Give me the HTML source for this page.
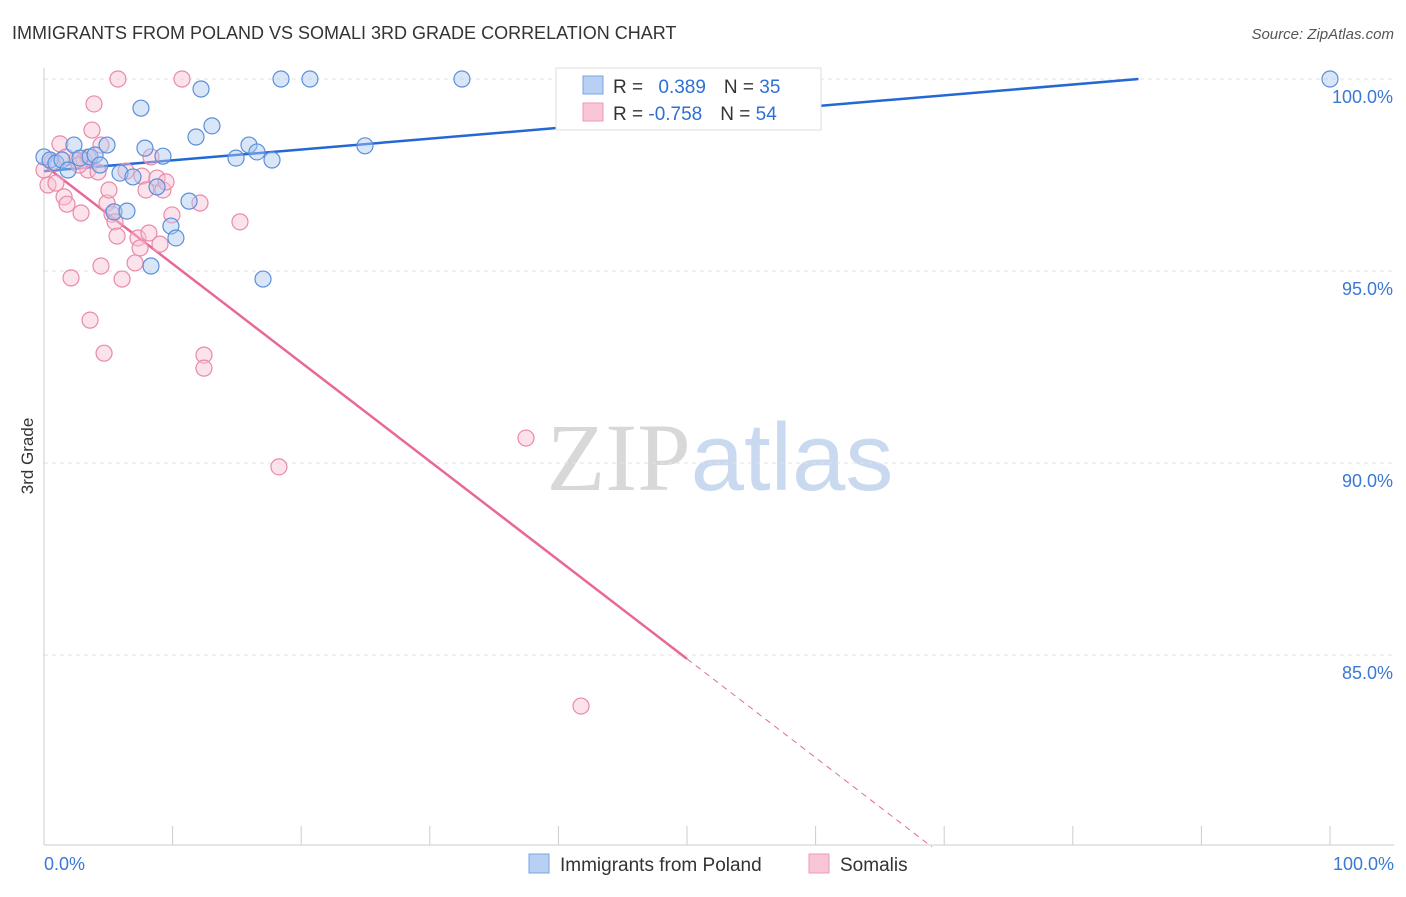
<!DOCTYPE html>
<html><head><meta charset="utf-8"><style>
body{margin:0;background:#fff;font-family:"Liberation Sans",sans-serif;}
svg text{font-family:"Liberation Sans",sans-serif;}
</style></head><body>
<svg id="chart" width="1406" height="892" xmlns="http://www.w3.org/2000/svg">
<text x="12" y="39" font-size="18" fill="#333">IMMIGRANTS FROM POLAND VS SOMALI 3RD GRADE CORRELATION CHART</text>
<text x="1394" y="39" font-size="15" fill="#555" text-anchor="end" font-style="italic">Source: ZipAtlas.com</text>
<text transform="translate(33,456) rotate(-90)" font-size="17" fill="#333" text-anchor="middle">3rd Grade</text>
<text x="720" y="490" font-size="96" text-anchor="middle"><tspan fill="#d8d8d8" font-family="Liberation Serif">ZIP</tspan><tspan fill="#c9daf0">atlas</tspan></text>
<g id="grid"></g><g id="axes"></g><g id="lines"></g><g id="points"></g>
<g>
<rect x="556" y="68" width="265" height="62" fill="#fff" stroke="#ddd"/>
<rect x="583" y="76" width="20" height="18" fill="#b7d0f3" stroke="#7aa5e0"/>
<rect x="583" y="103" width="20" height="18" fill="#f9c6d6" stroke="#ee9ab4"/>
<text x="613" y="93" font-size="19" fill="#333">R = <tspan fill="#2f6fd6" dx="10">0.389</tspan><tspan dx="18" fill="#333">N = </tspan><tspan fill="#2f6fd6">35</tspan></text>
<text x="613" y="120" font-size="19" fill="#333">R = <tspan fill="#2f6fd6">-0.758</tspan><tspan dx="18" fill="#333">N = </tspan><tspan fill="#2f6fd6">54</tspan></text>
</g>
<g>
<rect x="529" y="854" width="20" height="19" fill="#b7d0f3" stroke="#7aa5e0"/>
<text x="560" y="871" font-size="19" fill="#333">Immigrants from Poland</text>
<rect x="809" y="854" width="20" height="19" fill="#f9c6d6" stroke="#ee9ab4"/>
<text x="840" y="871" font-size="19" fill="#333">Somalis</text>
</g>
</svg>
<script>
const xTicks=[0,10,20,30,40,50,60,70,80,90,100];
const yTicks=[100,95,90,85];
const yTickLabels=["100.0%","95.0%","90.0%","85.0%"];
const polandX=[0,0.47,0.93,1.4,1.87,2.33,2.8,3.58,3.97,4.35,4.9,5.44,5.91,6.45,6.92,7.54,7.85,8.32,8.79,9.25,9.87,10.26,11.28,11.82,12.21,13.06,14.93,15.94,16.56,17.03,17.73,18.43,20.68,24.96,32.5,100];
const polandY=[97.97,97.89,97.81,97.89,97.63,98.28,97.94,97.97,98.02,97.76,98.28,96.54,97.55,96.56,97.45,99.24,98.2,95.13,97.19,97.99,96.17,95.86,96.82,98.49,99.74,98.78,97.94,98.28,98.1,94.79,97.89,100,100,98.26,100,100];
const somaliX=[0,0.31,0.62,0.93,1.24,1.56,1.79,2.1,2.49,2.88,3.11,3.42,3.58,3.73,3.89,4.2,4.43,4.43,4.67,4.9,5.05,5.29,5.52,5.68,5.75,6.07,6.38,7.08,7.31,7.47,7.62,7.93,8.16,8.32,8.79,9.02,9.25,9.49,9.95,10.73,12.13,12.44,12.44,15.24,18.27,37.48,41.76,3.42,2.72,1.71];
const somaliY=[97.63,97.24,97.84,97.29,98.31,96.93,96.74,94.82,97.89,96.51,97.89,97.63,93.72,98.67,99.35,97.58,95.13,98.28,92.86,96.77,97.11,96.48,96.28,95.91,100,94.79,97.6,95.21,95.86,95.6,97.47,97.11,95.99,97.97,97.42,95.7,97.11,97.32,96.46,100,96.77,92.81,92.47,96.28,89.9,90.65,83.67,97.97,97.76,97.97];
const polandFit=[97.6,0.0282];
const somaliFit=[97.76,-0.2572];
const NS='http://www.w3.org/2000/svg';
const X=v=>44+v*12.86, Y=v=>79+(100-v)*38.4;
function mk(t,a,p){const e=document.createElementNS(NS,t);for(const k in a)e.setAttribute(k,a[k]);p.appendChild(e);return e;}
const grid=document.getElementById('grid'),axes=document.getElementById('axes'),lines=document.getElementById('lines'),pts=document.getElementById('points');
yTicks.forEach((t,i)=>{
 const l=mk('line',{x1:44,x2:1394,y1:Y(t),y2:Y(t),stroke:'#e3e3e3','stroke-dasharray':'4,4'},grid);
 
 
 const tx=mk('text',{x:1393,y:Y(t)+24,'font-size':18,fill:'#3a78d6','text-anchor':'end'},axes);
 tx.textContent=yTickLabels[i];
 
 
});
const ax=mk('line',{x1:44,x2:1394,y1:845,y2:845,stroke:'#ccc'},axes);


const ay=mk('line',{x1:44,x2:44,y1:68,y2:845,stroke:'#ccc'},axes);


xTicks.forEach(t=>{
 const l=mk('line',{x1:X(t),x2:X(t),y1:826,y2:845,stroke:'#ccc'},axes);
 
 
});
[[0,'0.0%','start',44],[100,'100.0%','end',1394]].forEach(d=>{
 const tx=mk('text',{x:d[3],y:870,'font-size':18,fill:'#3a78d6','text-anchor':d[2]},axes);
 tx.textContent=d[1];
 
 
});
function drawPts(xs,ys,fill,stroke,name){xs.forEach((x,i)=>{
 const c=mk('circle',{cx:X(x),cy:Y(ys[i]),r:8,fill:fill,'fill-opacity':0.45,stroke:stroke,'stroke-width':1.2},pts);
 
 
});}
drawPts(somaliX,somaliY,'#f9c0d2','#e98aa8','somali-point');
drawPts(polandX,polandY,'#aac8f0','#5b8fdc','poland-point');
// blue fit, clipped at 100%
const bxEnd=(100-polandFit[0])/polandFit[1];
const bl=mk('line',{x1:X(0),y1:Y(polandFit[0]),x2:X(bxEnd),y2:Y(100),stroke:'#2468d4','stroke-width':2.5},lines);


const sEnd=50, sY=v=>somaliFit[0]+somaliFit[1]*v;
const pl=mk('line',{x1:X(0),y1:Y(sY(0)),x2:X(sEnd),y2:Y(sY(sEnd)),stroke:'#e8689a','stroke-width':2.5},lines);


const dEnd=(somaliFit[0]-80)/-somaliFit[1];
const pd=mk('line',{x1:X(sEnd),y1:Y(sY(sEnd)),x2:X(dEnd),y2:Y(80),stroke:'#e8689a','stroke-width':1,'stroke-dasharray':'6,5'},lines);


</script>
</body></html>
